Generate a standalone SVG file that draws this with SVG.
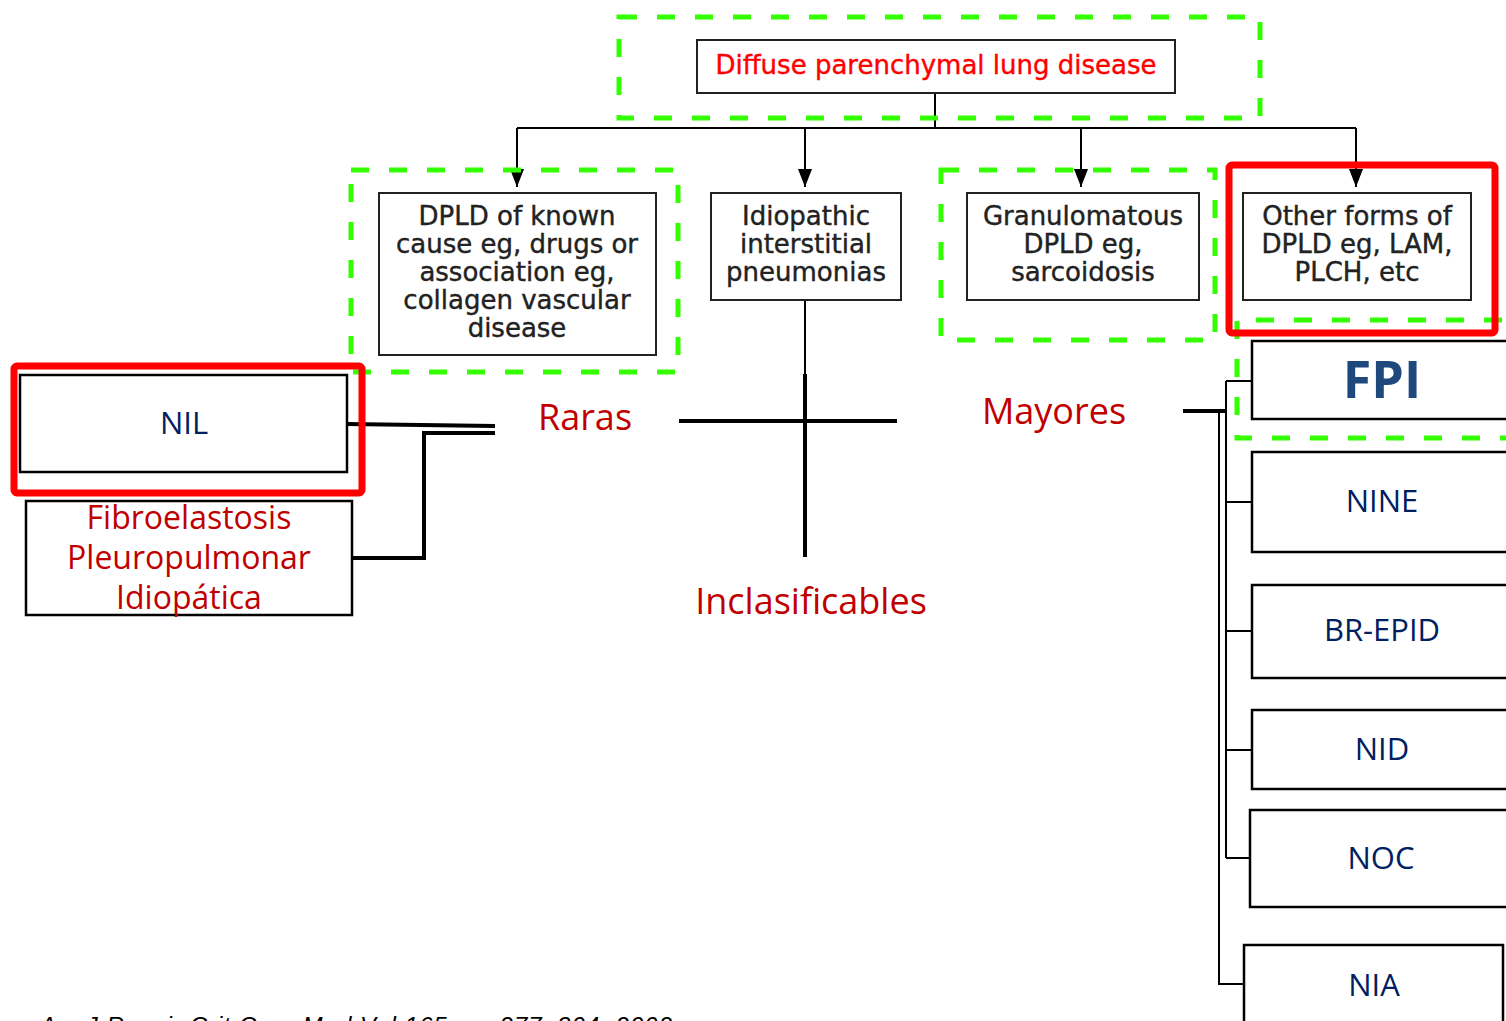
<svg xmlns="http://www.w3.org/2000/svg" width="1506" height="1021" viewBox="0 0 1506 1021">
<defs>
<marker id="arr" viewBox="0 0 18 14" refX="18" refY="7" markerWidth="18" markerHeight="14" markerUnits="userSpaceOnUse" orient="auto">
<path d="M0,0 L18,7 L0,14 Z" fill="#000"/>
</marker>
<style>
.vb{fill:#fff;stroke:#222;stroke-width:2}
.vt{font-family:"DejaVu Sans",Verdana,sans-serif;font-size:26px;fill:#222;text-anchor:middle;stroke:#222;stroke-width:0.4}
.gd{fill:none;stroke:#33FF00;stroke-width:5;stroke-dasharray:18 20}
.rb{fill:none;stroke:#FF0000;stroke-width:7}
.bb{fill:#fff;stroke:#000;stroke-width:2.5}
.bt{font-family:"Open Sans","Noto Sans",sans-serif;font-size:31px;fill:#002060;text-anchor:middle}
.rt{font-family:"Open Sans","Noto Sans",sans-serif;font-size:36px;fill:#C00000;text-anchor:middle}
.ln{fill:none;stroke:#000;stroke-width:2}
.lt{fill:none;stroke:#000;stroke-width:4}
</style>
</defs>
<rect width="1506" height="1021" fill="#fff"/>

<g id="connectors">
<path class="ln" d="M935,93 V128 M517,128 H1356"/>
<path class="ln" d="M517,128 V187" marker-end="url(#arr)"/>
<path class="ln" d="M805,128 V187" marker-end="url(#arr)"/>
<path class="ln" d="M1081,128 V187" marker-end="url(#arr)"/>
<path class="ln" d="M1356,128 V187" marker-end="url(#arr)"/>
<path class="ln" d="M805,300 V374"/>
<path class="lt" d="M805,374 V557 M679,421 H897"/>
<path class="lt" d="M347,424 L495,426 M495,433 H424 V558 H352"/>
<path class="lt" d="M1183,411 H1226" stroke-width="3"/>
<path class="ln" d="M1226,381 V858 M1226,381 H1252 M1226,502 H1252 M1226,631 H1252 M1226,750 H1252 M1226,858 H1250" stroke-width="2.5"/>
<path class="ln" d="M1219,411 V984 H1244"/>
</g>

<g id="group-top">
<rect class="gd" x="619" y="17" width="641" height="101"/>
</g>
<g id="node-dpld">
<rect class="vb" x="697" y="40" width="478" height="53"/>
<text class="vt" x="936" y="74" style="fill:#FF0000;stroke:#FF0000">Diffuse parenchymal lung disease</text>
</g>

<g id="group-known">
<rect class="gd" x="351" y="170" width="327" height="202"/>
</g>
<g id="node-known">
<rect class="vb" x="379" y="193" width="277" height="162"/>
<text class="vt" x="517" y="225">DPLD of known</text>
<text class="vt" x="517" y="253">cause eg, drugs or</text>
<text class="vt" x="517" y="281">association eg,</text>
<text class="vt" x="517" y="309">collagen vascular</text>
<text class="vt" x="517" y="337">disease</text>
</g>

<g id="node-iip">
<rect class="vb" x="711" y="193" width="190" height="107"/>
<text class="vt" x="806" y="225">Idiopathic</text>
<text class="vt" x="806" y="253">interstitial</text>
<text class="vt" x="806" y="281">pneumonias</text>
</g>

<g id="group-gran">
<rect class="gd" x="941" y="170" width="274" height="170"/>
</g>
<g id="node-gran">
<rect class="vb" x="967" y="193" width="232" height="107"/>
<text class="vt" x="1083" y="225">Granulomatous</text>
<text class="vt" x="1083" y="253">DPLD eg,</text>
<text class="vt" x="1083" y="281">sarcoidosis</text>
</g>

<g id="group-fpi">
<path class="gd" d="M1540,320 H1237 V438 H1540"/>
</g>
<g id="highlight-other">
<rect class="rb" x="1229" y="165" width="266" height="168" rx="3"/>
</g>
<g id="node-other">
<rect class="vb" x="1243" y="193" width="228" height="107"/>
<text class="vt" x="1357" y="225">Other forms of</text>
<text class="vt" x="1357" y="253">DPLD eg, LAM,</text>
<text class="vt" x="1357" y="281">PLCH, etc</text>
</g>

<g id="node-fpi">
<rect class="bb" x="1252" y="341" width="280" height="78" stroke-width="4"/>
<text x="1382" y="398" text-anchor="middle" font-family="'Open Sans','Noto Sans',sans-serif" font-weight="bold" font-size="52" fill="#1F497D">FPI</text>
</g>
<g id="node-nine">
<rect class="bb" x="1252" y="452" width="280" height="100"/>
<text class="bt" x="1382" y="512">NINE</text>
</g>
<g id="node-brepid">
<rect class="bb" x="1252" y="585" width="280" height="93"/>
<text class="bt" x="1382" y="641">BR-EPID</text>
</g>
<g id="node-nid">
<rect class="bb" x="1252" y="710" width="280" height="79"/>
<text class="bt" x="1382" y="760">NID</text>
</g>
<g id="node-noc">
<rect class="bb" x="1250" y="810" width="282" height="97"/>
<text class="bt" x="1381" y="869">NOC</text>
</g>
<g id="node-nia">
<rect class="bb" x="1244" y="945" width="259" height="90"/>
<text class="bt" x="1374" y="996">NIA</text>
</g>

<g id="highlight-nil">
<rect class="rb" x="14" y="366" width="348" height="127" rx="3"/>
</g>
<g id="node-nil">
<rect class="bb" x="20" y="375" width="327" height="97" stroke-width="2"/>
<text class="bt" x="184" y="434">NIL</text>
</g>
<g id="node-fpp">
<rect class="bb" x="26" y="501" width="326" height="114" stroke-width="2"/>
<text class="rt" x="189" y="529" style="font-size:32px">Fibroelastosis</text>
<text class="rt" x="189" y="569" style="font-size:32px">Pleuropulmonar</text>
<text class="rt" x="189" y="609" style="font-size:32px">Idiopática</text>
</g>

<g id="labels">
<text class="rt" x="585" y="430">Raras</text>
<text class="rt" x="1054" y="424">Mayores</text>
<text class="rt" x="811" y="614">Inclasificables</text>
<text x="40" y="1034" font-family="'Liberation Sans',Arial,sans-serif" font-size="24" font-style="italic" fill="#000" textLength="632">Am J Respir Crit Care Med Vol 165. pp 277–304, 2002</text>
</g>
</svg>
